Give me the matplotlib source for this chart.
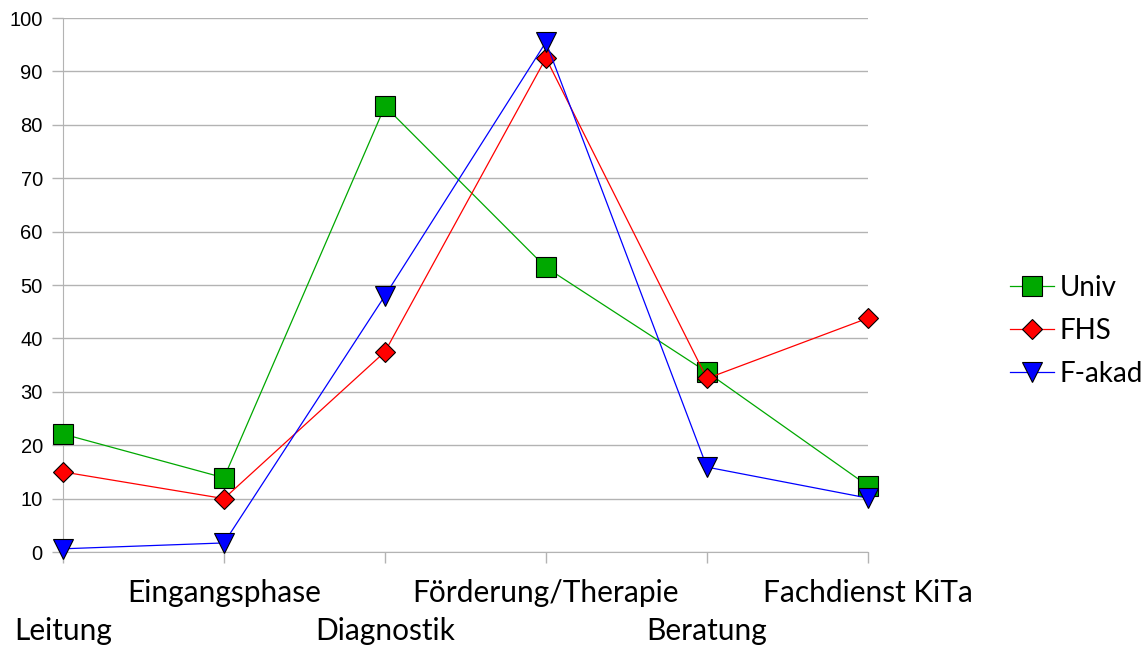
import matplotlib.pyplot as plt

# categories and series
categories = ["Leitung", "Eingangsphase", "Diagnostik",
              "Förderung/Therapie", "Beratung", "Fachdienst KiTa"]
univ = [22.1, 13.9, 83.5, 53.3, 33.7, 12.4]
fhs = [15.0, 10.0, 37.5, 92.5, 32.5, 43.8]
fakad = [0.6, 1.7, 48.0, 95.5, 15.9, 10.1]

fig = plt.figure(figsize=(11.45, 6.46), dpi=100)
ax = fig.add_axes([0.055, 0.1455, 0.703, 0.8265])

x = list(range(len(categories)))
ax.plot(x, univ, color="#00a800", lw=0.9, marker="s", ms=14,
        mfc="#00a800", mec="black", mew=0.8, label="Univ", clip_on=False, zorder=3)
ax.plot(x, fhs, color="#ff0000", lw=0.9, marker="D", ms=10.5,
        mfc="#ff0000", mec="black", mew=0.8, label="FHS", clip_on=False, zorder=4)
ax.plot(x, fakad, color="#0000ff", lw=0.9, marker="v", ms=15,
        mfc="#0000ff", mec="black", mew=0.8, label="F-akad", clip_on=False, zorder=5)

ax.set_xlim(0, 5)
ax.set_ylim(0, 100)
ax.set_yticks(range(0, 101, 10))
ax.grid(axis="y", color="#b3b3b3", lw=1)
ax.set_axisbelow(True)
for s in ["top", "right"]:
    ax.spines[s].set_visible(False)
for s in ["left", "bottom"]:
    ax.spines[s].set_color("#b3b3b3")
ax.tick_params(axis="y", colors="#b3b3b3", length=8, width=1, labelsize=14.5,
               labelcolor="black", pad=6.5)
ax.tick_params(axis="x", colors="#b3b3b3", length=8, width=1, labelcolor="black")
for lab in ax.get_yticklabels():
    lab.set_family("Liberation Sans")

# staggered category labels
ax.set_xticks(x)
ax.set_xticklabels([])
for i, name in enumerate(categories):
    off = -79 if i % 2 == 0 else -41
    ax.annotate(name, (i, 0), xycoords="data", xytext=(0, off),
                textcoords="offset pixels", ha="center", va="center",
                fontsize=21.5, family="Lato", annotation_clip=False)

leg = fig.legend(loc="upper left", bbox_to_anchor=(0.872, 0.592), frameon=False,
                 prop={"family": "Lato", "size": 20}, handlelength=1.6,
                 handletextpad=0.2, labelspacing=0.62, borderaxespad=0)

fig.savefig("out.png", dpi=100)
